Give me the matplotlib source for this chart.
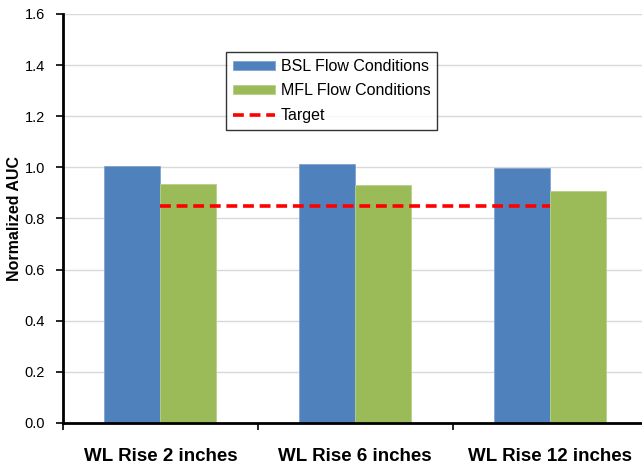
import matplotlib.pyplot as plt
from matplotlib.ticker import FixedLocator

plt.rcParams['font.family'] = ['Liberation Sans', 'DejaVu Sans']

# Data
categories = ["WL Rise 2 inches", "WL Rise 6 inches", "WL Rise 12 inches"]
bsl_auc = [1.007, 1.012, 0.997]
mfl_auc = [0.935, 0.931, 0.906]
target = [0.85, 0.85, 0.85]

fig = plt.figure(figsize=(6.42, 4.66), dpi=100)
ax = fig.add_axes([0.0981, 0.0923, 0.9105, 0.8777])

x = list(range(len(categories)))
w = 0.287
b1 = ax.bar([i - w / 2 for i in x], bsl_auc, w, color="#4F81BD", edgecolor="#7FA3D0",
            linewidth=0.6, label="BSL Flow Conditions", zorder=2)
b2 = ax.bar([i + w / 2 for i in x], mfl_auc, w, color="#9BBB59", edgecolor="#B7CF8A",
            linewidth=0.6, label="MFL Flow Conditions", zorder=2)
ln, = ax.plot(x, target, color="#FF0000", linestyle=(0, (3, 1.6)), linewidth=2.6,
              label="Target", zorder=3)

ax.set_xlim(-0.5, 2.5)
ax.set_ylim(0, 1.6)
ax.set_yticks([0, 0.2, 0.4, 0.6, 0.8, 1.0, 1.2, 1.4, 1.6])
ax.set_yticklabels([f"{v:.1f}" for v in ax.get_yticks()], fontsize=10.5)
ax.yaxis.grid(True, color="#D9D9D9", linewidth=1.0, zorder=0)
ax.set_axisbelow(True)

ax.set_xticks(x)
ax.set_xticklabels(categories, fontsize=13.5, fontweight="bold")
ax.tick_params(axis="x", which="major", length=0, pad=18)
ax.xaxis.set_minor_locator(FixedLocator([-0.5, 0.5, 1.5, 2.5]))
ax.tick_params(axis="x", which="minor", length=5, width=1.2, direction="out")
ax.tick_params(axis="y", length=5, width=1.2, direction="out", pad=8)

for s in ["top", "right"]:
    ax.spines[s].set_visible(False)
for s in ["left", "bottom"]:
    ax.spines[s].set_linewidth(2)
    ax.spines[s].set_color("black")

ax.set_ylabel("Normalized AUC", fontsize=11.5, fontweight="bold", labelpad=2)

leg = ax.legend(handles=[b1, b2, ln], loc="upper left", bbox_to_anchor=(0.279, 0.907),
                fontsize=11.5, frameon=True, fancybox=False, edgecolor="black",
                handlelength=2.65, handleheight=0.5, borderpad=0.42,
                labelspacing=0.6, handletextpad=0.35, borderaxespad=0)
leg.get_frame().set_linewidth(1.0)

fig.savefig("out.png", dpi=100)
